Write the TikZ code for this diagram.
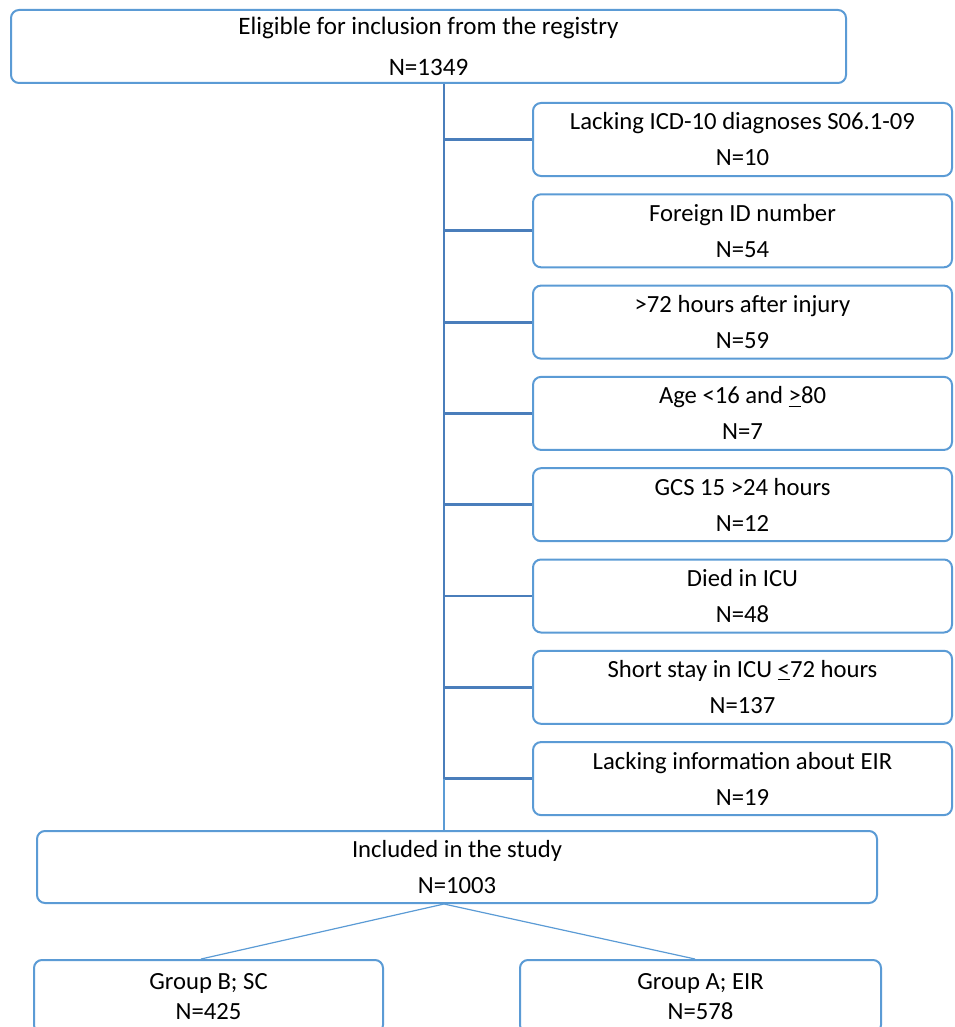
\documentclass[tikz,border=0pt]{standalone}
\usepackage{fontspec}
\setmainfont{Carlito}
\usepackage{tikz}
\usepackage{xcolor}
\definecolor{boxblue}{HTML}{5B9BD5}
\definecolor{spineblue}{HTML}{4A7EBB}
\newcommand{\uleq}[1]{\underline{#1}}

\begin{document}
\begin{tikzpicture}[x=0.75pt,y=-0.75pt,
  box/.style={draw=boxblue,line width=1.5pt,rounded corners=6pt,align=center,inner sep=0pt,
    font=\fontsize{18.5}{27}\selectfont},
  exbox/.style={box,minimum width=314.25pt,minimum height=54.75pt},
  grpbox/.style={box,minimum height=54.75pt,font=\fontsize{18.5}{22.5}\selectfont},
  trunk/.style={draw=spineblue,line width=2.1pt},
  thin/.style={draw=boxblue,line width=0.9pt}]
\useasboundingbox (0,0) rectangle (955,1027);
\clip (0,0) rectangle (955,1027);
%
\node[box,minimum width=626.25pt,minimum height=54.75pt,font=\fontsize{18.8}{30.5}\selectfont]
  (top) at (428.5,46.5) {Eligible for inclusion from the registry\\N=1349};
%
\foreach \i/\lbl/\n in {1/Lacking ICD-10 diagnoses S06.1-09/10,
  2/Foreign ID number/54,
  3/>72 hours after injury/59,
  4/{Age <16 and \uleq{>}80}/7,
  5/GCS 15 >24 hours/12,
  6/Died in ICU/48,
  7/{Short stay in ICU \uleq{<}72 hours}/137,
  8/Lacking information about EIR/19}
  \node[exbox] (ex\i) at (742.5,{139.5+91.3*(\i-1)}) {\lbl\\N=\n};
\coordinate (spine) at (ex8.west -| 444,0);
%
\node[box,minimum width=630pt,minimum height=54pt] (incl) at (457,867)
  {Included in the study\\N=1003};
\node[grpbox,minimum width=261.75pt] (grpB) at (208.5,996.5) {Group B; SC\\N=425};
\node[grpbox,minimum width=270.75pt] (grpA) at (700.5,996.5) {Group A; EIR\\N=578};
%
\draw[trunk] (spine |- top.south) -- (spine);
\foreach \i in {1,...,8}
  \draw[trunk] (spine |- ex\i.west) -- (ex\i.west);
\draw[thin] (spine) -- (spine |- incl.north);
\draw[thin] (spine |- incl.south) -- ([xshift=-5.6pt]grpB.north);
\draw[thin] (spine |- incl.south) -- ([xshift=-4.1pt]grpA.north);
\end{tikzpicture}
\end{document}
